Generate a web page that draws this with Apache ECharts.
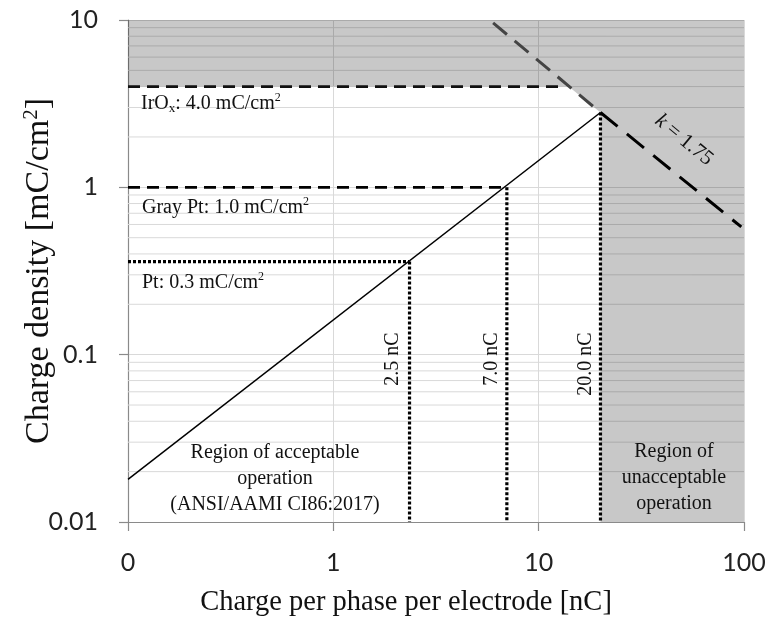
<!DOCTYPE html>
<html>
<head>
<meta charset="utf-8">
<script src="https://cdn.jsdelivr.net/npm/echarts@6/dist/echarts.min.js"></script>
<style>
  html, body { margin: 0; padding: 0; background: #fff; }
  #chart { width: 767px; height: 621px; }
</style>
</head>
<body>
<div id="chart"></div>
<script>
// axis ranges / ticks
const xRange = [0.1, 100];
const yRange = [0.01, 10];
const minorY = [0.02, 0.03, 0.04, 0.05, 0.06, 0.07, 0.08, 0.09,
                0.2, 0.3, 0.4, 0.5, 0.6, 0.7, 0.8, 0.9,
                2, 3, 4, 5, 6, 7, 8, 9];

// lines
const acceptLine = [[0.1, 0.018], [20, 2.8]];
const iroxLine = [[0.1, 4.0], [12.5, 4.0]];
const grayPtLine = [[0.1, 1.0], [7.0, 1.0]];
const ptLine = [[0.1, 0.36], [2.35, 0.36]];
const ptDrop = [[2.35, 0.36], [2.35, 0.01]];
const grayPtDrop = [[7.0, 1.0], [7.0, 0.01]];
const iroxDrop = [[20, 2.8], [20, 0.01]];
const kUpper = [[6.0, 9.6], [20, 2.8]];
const kLower = [[20, 2.8], [97, 0.58]];

// unacceptable region outline
const grayRegion = [[0.1, 10], [100, 10], [100, 0.01], [20, 0.01], [20, 2.8], [14, 4], [0.1, 4]];

const serif = '"Liberation Serif", "DejaVu Serif", serif';

const chart = echarts.init(document.getElementById('chart'));

function seg(data, color, width, type, z) {
  return {
    type: 'line',
    data: data,
    symbol: 'none',
    silent: true,
    z: z || 3,
    lineStyle: { color: color, width: width, type: type, cap: 'butt' }
  };
}

function txt(x, y, rich, text, opts) {
  return Object.assign({
    type: 'text',
    x: x,
    y: y,
    z: 10,
    style: Object.assign({
      text: text,
      rich: rich,
      font: '20px ' + serif,
      fill: '#111',
      align: 'left',
      verticalAlign: 'middle'
    }, opts && opts.style)
  }, opts && opts.el);
}

const richLbl = {
  a: { fontFamily: serif, fontSize: 20, color: '#111' },
  sup: { fontFamily: serif, fontSize: 12, color: '#111', padding: [0, 0, 12, 0] },
  sub: { fontFamily: serif, fontSize: 13, color: '#111', padding: [10, 0, 0, 0] }
};

const option = {
  animation: false,
  grid: { left: 128, top: 20, right: 23, bottom: 99, outerBoundsMode: 'none', containLabel: false },
  xAxis: {
    type: 'log',
    logBase: 10,
    min: xRange[0],
    max: xRange[1],
    name: 'Charge per phase per electrode [nC]',
    nameLocation: 'middle',
    nameGap: 66,
    nameMoveOverlap: false,
    nameTextStyle: { fontFamily: serif, fontSize: 28.5, color: '#111', padding: [0, 60, 0, 0] },
    axisLine: { lineStyle: { color: '#8a8a8a', width: 1.2 } },
    axisTick: { show: true, length: 9, lineStyle: { color: '#8a8a8a', width: 1.2 } },
    axisLabel: {
      margin: 28,
      fontFamily: 'Lato',
      fontSize: 25,
      color: '#222',
      formatter: v => (v < 0.5 ? '0' : String(Math.round(v)))
    },
    splitLine: { show: true, lineStyle: { color: '#d9d9d9', width: 1 } }
  },
  yAxis: {
    type: 'log',
    logBase: 10,
    min: yRange[0],
    max: yRange[1],
    name: '{a|Charge density [mC/cm}{sup|2}{a|]}',
    nameLocation: 'middle',
    nameGap: 70,
    nameMoveOverlap: false,
    nameRotate: 90,
    nameTextStyle: {
      rich: {
        a: { fontFamily: serif, fontSize: 34, color: '#111' },
        sup: { fontFamily: serif, fontSize: 21, color: '#111', padding: [0, 0, 16, 0] }
      }
    },
    axisLine: { show: true, lineStyle: { color: '#8a8a8a', width: 1.2 } },
    axisTick: { show: true, length: 9, lineStyle: { color: '#8a8a8a', width: 1.2 } },
    axisLabel: {
      margin: 30,
      fontFamily: 'Lato',
      fontSize: 25,
      color: '#222',
      formatter: v => (v >= 1 ? String(Math.round(v)) : String(+v.toPrecision(1)))
    },
    splitLine: { show: true, lineStyle: { color: '#d9d9d9', width: 1 } }
  },
  series: [
    {
      type: 'custom',
      silent: true,
      z: 1,
      data: minorY.map(v => [xRange[0], v]),
      renderItem: function (params, api) {
        const v = api.value(1);
        const p0 = api.coord([xRange[0], v]);
        const p1 = api.coord([xRange[1], v]);
        return {
          type: 'line',
          shape: { x1: p0[0], y1: p0[1], x2: p1[0], y2: p1[1] },
          style: { stroke: '#d9d9d9', lineWidth: 1 }
        };
      }
    },
    {
      type: 'custom',
      silent: true,
      z: 2,
      data: [[1, 1]],
      renderItem: function (params, api) {
        return {
          type: 'polygon',
          shape: { points: grayRegion.map(p => api.coord(p)) },
          style: { fill: 'rgba(0,0,0,0.215)' }
        };
      }
    },
    seg(acceptLine, '#000', 1.5, 'solid'),
    seg(iroxLine, '#111', 2.6, [12, 7]),
    seg(grayPtLine, '#000', 2.6, [12, 7]),
    seg(ptLine, '#000', 3.2, [3, 2]),
    seg(ptDrop, '#000', 3.2, [3, 2]),
    seg(grayPtDrop, '#000', 3.2, [3, 2]),
    seg(iroxDrop, '#000', 3.2, [3, 2]),
    seg(kUpper, '#444', 3, [18, 10]),
    seg(kLower, '#000', 3, [22, 12])
  ],
  graphic: [
    txt(141, 104, richLbl, '{a|IrO}{sub|x}{a|: 4.0 mC/cm}{sup|2}'),
    txt(142, 208, richLbl, '{a|Gray Pt: 1.0 mC/cm}{sup|2}'),
    txt(142, 283, richLbl, '{a|Pt: 0.3 mC/cm}{sup|2}'),
    txt(275, 479, null, 'Region of acceptable\noperation\n(ANSI/AAMI CI86:2017)',
      { style: { align: 'center', lineHeight: 26 } }),
    txt(674, 478, null, 'Region of\nunacceptable\noperation',
      { style: { align: 'center', lineHeight: 26 } }),
    txt(393, 359, null, '2.5 nC', { style: { align: 'center' }, el: { rotation: Math.PI / 2 } }),
    txt(492, 359, null, '7.0 nC', { style: { align: 'center' }, el: { rotation: Math.PI / 2 } }),
    txt(586, 364, null, '20.0 nC', { style: { align: 'center' }, el: { rotation: Math.PI / 2 } }),
    txt(684, 140, {
      i: { fontFamily: serif, fontSize: 21, fontStyle: 'italic', color: '#111' },
      a: { fontFamily: serif, fontSize: 21, color: '#111' }
    }, '{i|k}{a| = 1.75}', { style: { align: 'center' }, el: { rotation: -0.69 } })
  ]
};

chart.setOption(option);
</script>
</body>
</html>
